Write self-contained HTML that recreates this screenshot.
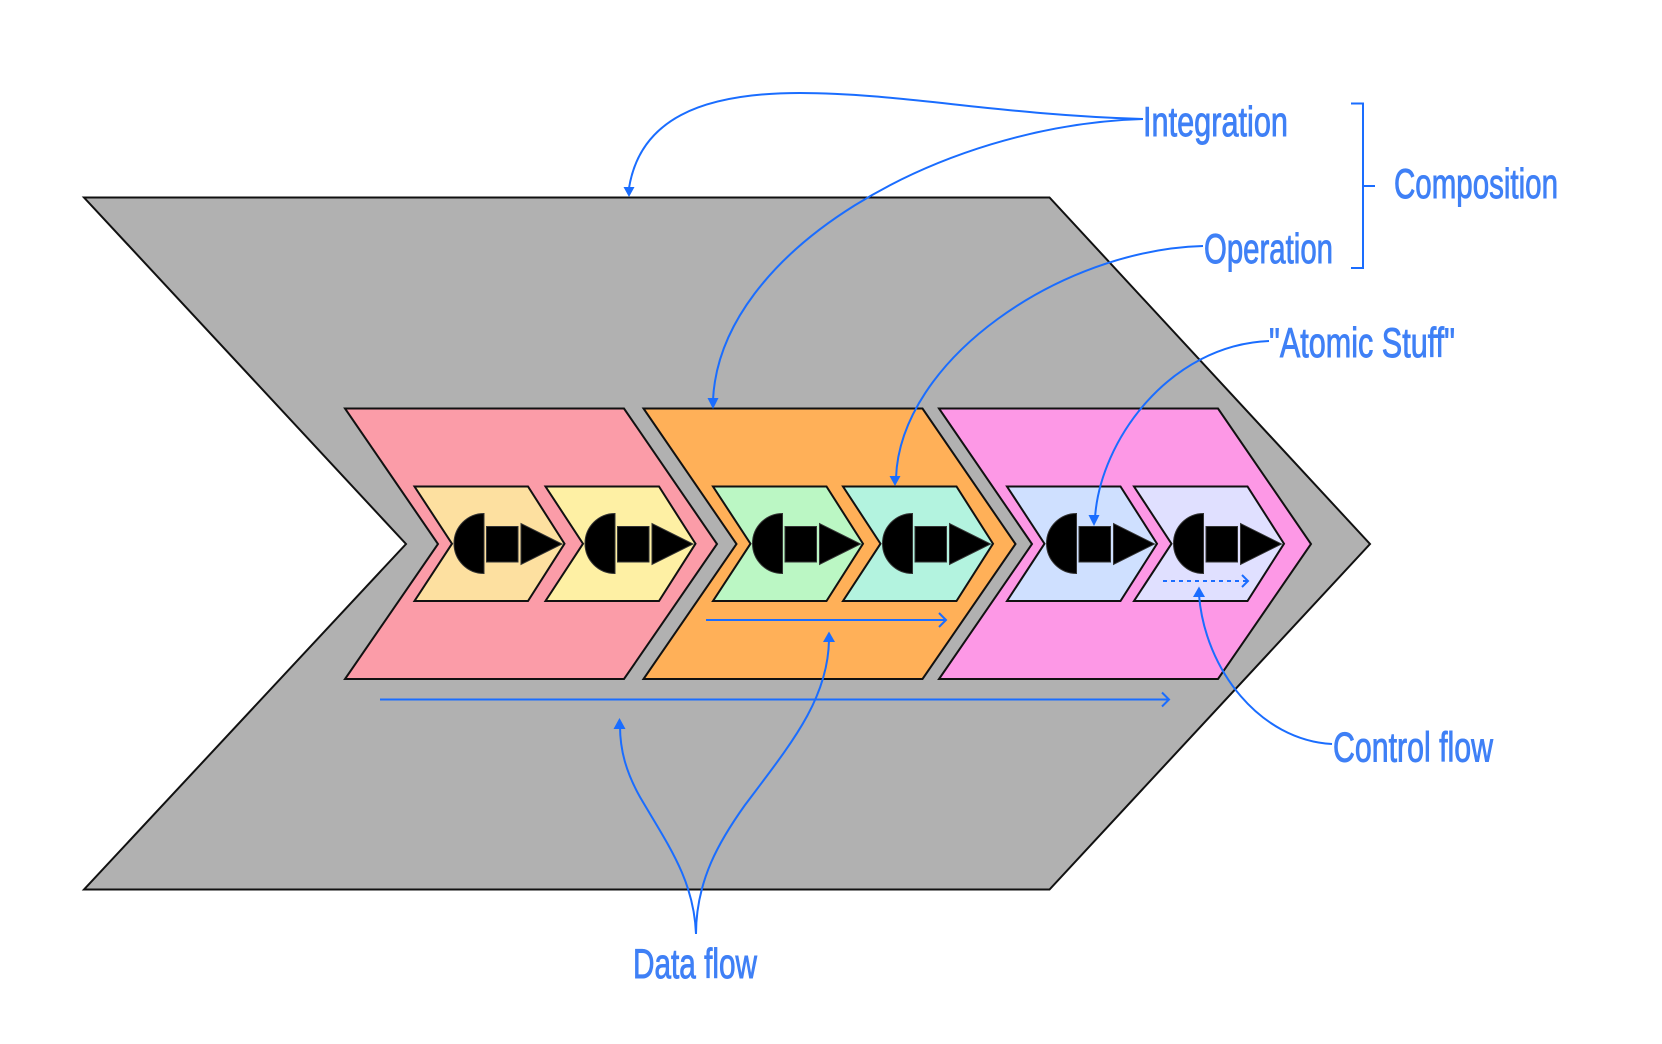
<!DOCTYPE html>
<html>
<head>
<meta charset="utf-8">
<style>
html,body{margin:0;padding:0;background:#fff;width:1662px;height:1044px;overflow:hidden}
svg{display:block}
text{font-family:"Liberation Sans",sans-serif;font-size:42px;fill:#3f80f6;stroke:#3f80f6;stroke-width:.9px}
.l{fill:none;stroke:#1a6dff;stroke-width:2}
.h{fill:#1a6dff;stroke:none}
</style>
</head>
<body>
<svg width="1662" height="1044" viewBox="0 0 1662 1044" xmlns="http://www.w3.org/2000/svg">
<defs>
<g id="s">
<path d="M70 27 A30 30 0 0 0 70 87 Z" fill="#000" stroke="#333" stroke-width="1"/>
<rect x="72.5" y="40" width="31.5" height="35.5" fill="#000" stroke="#333" stroke-width="1"/>
<path d="M107 37 L107 78 L148 57.5 Z" fill="#000" stroke="#333" stroke-width="1"/>
</g>
<polygon id="m" points="0,408.5 279,408.5 372,544 279,679 0,679 93,544"/>
<polygon id="c" points="0,486.5 113.500,486.5 150,543.7 113.500,601 0,601 37.500,543.7"/>
</defs>

<polygon points="84,197.5 1049.500,197.5 1370,544 1049.500,889.5 84,889.5 406,544" fill="#b1b1b1" stroke="#111" stroke-width="2"/>

<use href="#m" x="345" fill="#fb9ca8" stroke="#111" stroke-width="2"/>
<use href="#m" x="643.5" fill="#ffb058" stroke="#111" stroke-width="2"/>
<use href="#m" x="939" fill="#fd98e6" stroke="#111" stroke-width="2"/>

<use href="#c" x="414.500" fill="#fde0a0" stroke="#111" stroke-width="2"/>
<use href="#c" x="545.500" fill="#fef0a4" stroke="#111" stroke-width="2"/>
<use href="#c" x="713" fill="#bbf7c4" stroke="#111" stroke-width="2"/>
<use href="#c" x="843" fill="#b3f3df" stroke="#111" stroke-width="2"/>
<use href="#c" x="1007" fill="#cfe0ff" stroke="#111" stroke-width="2"/>
<use href="#c" x="1134" fill="#e0e0ff" stroke="#111" stroke-width="2"/>

<use href="#s" x="414" y="486.5"/>
<use href="#s" x="545" y="486.5"/>
<use href="#s" x="712.500" y="486.5"/>
<use href="#s" x="842.500" y="486.5"/>
<use href="#s" x="1006.500" y="486.5"/>
<use href="#s" x="1133.500" y="486.5"/>

<path class="l" d="M706 620 H946 M939 613 L946 620 L939 627"/>
<path class="l" d="M380 699.5 H1169 M1162 692.5 L1169 699.5 L1162 706.5"/>
<path class="l" d="M1163 581 H1248" stroke-dasharray="4 4" stroke-width="2.5"/>
<path class="l" d="M1242 575 L1248 581 L1242 587"/>

<path class="l" d="M1143 119 C1000 115 900 93 800 93 C700 93 640 120 629 188"/>
<polygon class="h" points="629,197 623.5,187 634.5,187"/>
<path class="l" d="M1143 119 C940 125 720 250 713 400"/>
<polygon class="h" points="713,409 707.5,398 718.5,398"/>
<path class="l" d="M1203 246 C1060 250 900 360 896 478"/>
<polygon class="h" points="895,486 889.5,476 900.5,476"/>
<path class="l" d="M1269 341 C1170 345 1100 440 1095 518"/>
<polygon class="h" points="1094,526 1088.5,515 1099.5,515"/>
<path class="l" d="M1332 744 C1260 740 1205 670 1199 595"/>
<polygon class="h" points="1199,586.5 1193,597 1205,597"/>
<path class="l" d="M696 934 C694 880 668 845 640 797 C626 772 620 750 620 726"/>
<polygon class="h" points="619.5,718 613.500,729 625.500,729"/>
<path class="l" d="M696 934 C696 880 720 840 745 805 C790 745 828 700 829 640"/>
<polygon class="h" points="829,631.500 823,642 835,642"/>

<path class="l" d="M1351 103.500 H1363 V268 H1351 M1363 186 H1375"/>

<text x="1143" y="136" textLength="145" lengthAdjust="spacingAndGlyphs">Integration</text>
<text x="1394" y="198" textLength="164" lengthAdjust="spacingAndGlyphs">Composition</text>
<text x="1204" y="263" textLength="129" lengthAdjust="spacingAndGlyphs">Operation</text>
<text x="1269" y="357" textLength="186" lengthAdjust="spacingAndGlyphs">"Atomic Stuff"</text>
<text x="1333" y="761.500" textLength="160" lengthAdjust="spacingAndGlyphs">Control flow</text>
<text x="633" y="978" textLength="124" lengthAdjust="spacingAndGlyphs">Data flow</text>
</svg>
</body>
</html>
